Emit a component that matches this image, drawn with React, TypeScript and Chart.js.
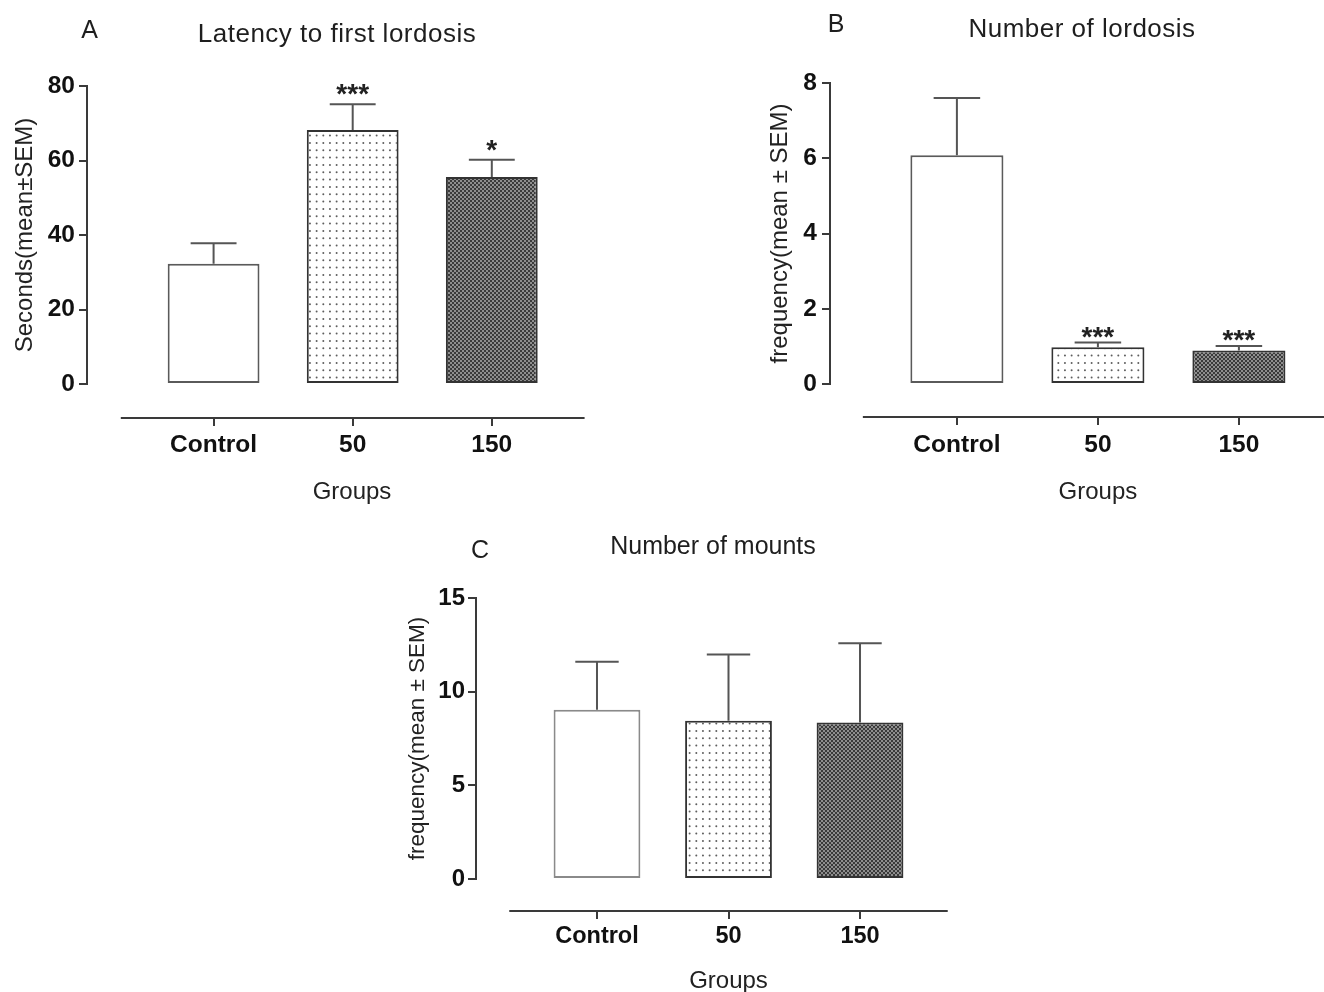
import React, { useEffect, useRef } from 'react';
import { Chart, registerables } from 'chart.js';

Chart.register(...registerables);

const FONT = '"Liberation Sans", Arial, Helvetica, sans-serif';

// ---------- data ----------
const GROUPS = ['Control', '50', '150'];
const GROUPS_TITLE = 'Groups';

const LATENCY_MEAN = [32.3, 68.2, 55.6];
const LATENCY_SEM = [5.5, 6.9, 4.6];
const LATENCY_STARS = ['', '***', '*'];
const LATENCY_TICKS = [0, 20, 40, 60, 80];

const LORDOSIS_MEAN = [6.08, 0.98, 0.89];
const LORDOSIS_SEM = [1.52, 0.12, 0.12];
const LORDOSIS_STARS = ['', '***', '***'];
const LORDOSIS_TICKS = [0, 2, 4, 6, 8];

const MOUNTS_MEAN = [9.04, 8.45, 8.36];
const MOUNTS_SEM = [2.56, 3.54, 4.22];
const MOUNTS_STARS = ['', '', ''];
const MOUNTS_TICKS = [0, 5, 10, 15];

type Panel = {
  id: string;
  letter: string;
  title: string;
  yTitle: string;
  means: number[];
  sems: number[];
  stars: string[];
  yTicks: number[];
  box: { left: number; top: number; width: number; height: number };
  pad: { top: number; right: number; bottom: number };
  yWidth: number;
  xHeight: number;
  xMin: number;
  xMax: number;
  axisGap: number;
  lineFrom: number;
  lineTo: number;
  titlePos: [number, number];
  letterPos: [number, number];
  titleSize: number;
  titleSpacing: number;
  yTitleFont: number;
  yTitlePad: number;
  xTickFont: number;
  xTickPad: number;
  groupsPad: number;
  yTickFont: number;
  yTickPad: number;
  starLift: number;
  edgeColors: string[];
};

const PANELS: Panel[] = [
  {
    id: 'A',
    letter: 'A',
    title: 'Latency to first lordosis',
    yTitle: 'Seconds(mean\u00B1SEM)',
    means: LATENCY_MEAN,
    sems: LATENCY_SEM,
    stars: LATENCY_STARS,
    yTicks: LATENCY_TICKS,
    box: { left: 0, top: 0, width: 660, height: 520 },
    pad: { top: 86, right: 43, bottom: 6 },
    yWidth: 87,
    xHeight: 130,
    xMin: -0.91,
    xMax: 2.9,
    axisGap: 34,
    lineFrom: -0.667,
    lineTo: 2.667,
    titlePos: [337, 35],
    letterPos: [89.5, 31],
    titleSize: 26,
    titleSpacing: 0.5,
    yTitleFont: 24,
    yTitlePad: 10.6,
    xTickFont: 24.5,
    xTickPad: 46.3,
    groupsPad: 6.9,
    yTickFont: 24.5,
    yTickPad: 4,
    starLift: 15,
    edgeColors: ['#5a5a5a', '#333333', '#333333'],
  },
  {
    id: 'B',
    letter: 'B',
    title: 'Number of lordosis',
    yTitle: 'frequency(mean \u00B1 SEM)',
    means: LORDOSIS_MEAN,
    sems: LORDOSIS_SEM,
    stars: LORDOSIS_STARS,
    yTicks: LORDOSIS_TICKS,
    box: { left: 755, top: 0, width: 650, height: 520 },
    pad: { top: 83, right: 39.2, bottom: 6 },
    yWidth: 75,
    xHeight: 130,
    xMin: -0.9,
    xMax: 2.9,
    axisGap: 33,
    lineFrom: -0.667,
    lineTo: 2.667,
    titlePos: [1082, 29.5],
    letterPos: [836, 25],
    titleSize: 26,
    titleSpacing: 0.5,
    yTitleFont: 24,
    yTitlePad: 10.6,
    xTickFont: 24.5,
    xTickPad: 46.3,
    groupsPad: 7.2,
    yTickFont: 24.5,
    yTickPad: 5,
    starLift: 10.7,
    edgeColors: ['#5a5a5a', '#333333', '#333333'],
  },
  {
    id: 'C',
    letter: 'C',
    title: 'Number of mounts',
    yTitle: 'frequency(mean \u00B1 SEM)',
    means: MOUNTS_MEAN,
    sems: MOUNTS_SEM,
    stars: MOUNTS_STARS,
    yTicks: MOUNTS_TICKS,
    box: { left: 393, top: 500, width: 620, height: 520 },
    pad: { top: 98, right: 32, bottom: 6 },
    yWidth: 83,
    xHeight: 135,
    xMin: -0.92,
    xMax: 2.92,
    axisGap: 32,
    lineFrom: -0.667,
    lineTo: 2.667,
    titlePos: [713, 547],
    letterPos: [480, 551],
    titleSize: 25,
    titleSpacing: 0,
    yTitleFont: 22.5,
    yTitlePad: 11.5,
    xTickFont: 23.5,
    xTickPad: 43.6,
    groupsPad: 17.9,
    yTickFont: 24,
    yTickPad: 3,
    starLift: 12,
    edgeColors: ['#8a8a8a', '#333333', '#333333'],
  },
];

function makeDots(): CanvasPattern | string {
  const c = document.createElement('canvas');
  c.width = 20;
  c.height = 22;
  const g = c.getContext('2d');
  if (!g) return '#f4f4f4';
  g.fillStyle = '#ffffff';
  g.fillRect(0, 0, 20, 22);
  g.fillStyle = '#5e5e5e';
  for (let i = 0; i < 3; i++) {
    for (let j = 0; j < 3; j++) {
      g.beginPath();
      g.arc(3.3 + i * 6.667, 3.6 + j * 7.333, 1.0, 0, Math.PI * 2);
      g.fill();
    }
  }
  return g.createPattern(c, 'repeat') || '#f4f4f4';
}

function makeChecker(): CanvasPattern | string {
  const c = document.createElement('canvas');
  c.width = 4;
  c.height = 4;
  const g = c.getContext('2d');
  if (!g) return '#666';
  g.fillStyle = '#3a3a3a';
  g.fillRect(0, 0, 4, 4);
  g.fillStyle = '#8e8e8e';
  g.fillRect(0, 0, 2, 2);
  g.fillRect(2, 2, 2, 2);
  return g.createPattern(c, 'repeat') || '#666';
}

function makeDecor(p: Panel) {
  return {
    id: 'decor' + p.id,
    afterDatasetsDraw(chart: any) {
      const ctx: CanvasRenderingContext2D = chart.ctx;
      const xs = chart.scales.x;
      const ys = chart.scales.y;
      const meta = chart.getDatasetMeta(0);
      ctx.save();
      // error bars and significance stars
      meta.data.forEach((el: any, i: number) => {
        const { x, y, width } = el.getProps(['x', 'y', 'width'], true);
        const top = ys.getPixelForValue(p.means[i] + p.sems[i]);
        ctx.strokeStyle = '#555555';
        ctx.lineWidth = 2;
        ctx.beginPath();
        ctx.moveTo(x, y);
        ctx.lineTo(x, top);
        ctx.moveTo(x - width / 4, top);
        ctx.lineTo(x + width / 4, top);
        ctx.stroke();
        if (p.stars[i]) {
          const fs = 28;
          ctx.fillStyle = '#222222';
          ctx.font = `bold ${fs}px ${FONT}`;
          ctx.textAlign = 'center';
          ctx.textBaseline = 'middle';
          ctx.fillText(p.stars[i], x, top - p.starLift + 0.23 * fs);
        }
      });
      // detached x axis line with ticks
      const base = Math.round(chart.chartArea.bottom + p.axisGap);
      ctx.strokeStyle = '#3a3a3a';
      ctx.lineWidth = 2;
      ctx.beginPath();
      ctx.moveTo(xs.getPixelForValue(p.lineFrom), base);
      ctx.lineTo(xs.getPixelForValue(p.lineTo), base);
      GROUPS.forEach((_g, i) => {
        const px = Math.round(xs.getPixelForValue(i));
        ctx.moveTo(px, base);
        ctx.lineTo(px, base + 8);
      });
      ctx.stroke();
      // title and panel letter
      ctx.fillStyle = '#1e1e1e';
      ctx.textAlign = 'center';
      ctx.textBaseline = 'middle';
      ctx.font = `${p.titleSize}px ${FONT}`;
      (ctx as any).letterSpacing = `${p.titleSpacing}px`;
      ctx.fillText(p.title, p.titlePos[0] - p.box.left, p.titlePos[1] - p.box.top);
      (ctx as any).letterSpacing = '0px';
      ctx.font = `25px ${FONT}`;
      ctx.fillText(p.letter, p.letterPos[0] - p.box.left, p.letterPos[1] - p.box.top);
      ctx.restore();
    },
  };
}

function PanelChart({ p }: { p: Panel }) {
  const ref = useRef<HTMLCanvasElement | null>(null);
  useEffect(() => {
    const canvas = ref.current;
    if (!canvas) return;
    const fills = ['#ffffff', makeDots(), makeChecker()];
    const chart = new Chart(canvas, {
      type: 'bar',
      data: {
        datasets: [
          {
            data: p.means.map((v, i) => ({ x: i, y: v })),
            backgroundColor: fills as any,
            borderColor: p.edgeColors,
            borderWidth: 2,
            borderSkipped: false,
            barPercentage: 1,
            categoryPercentage: 0.66,
          },
        ],
      },
      options: {
        animation: false,
        responsive: false,
        maintainAspectRatio: false,
        devicePixelRatio: 1,
        layout: { padding: { top: p.pad.top, right: p.pad.right, bottom: p.pad.bottom, left: 0 } },
        plugins: {
          legend: { display: false },
          tooltip: { enabled: false },
          title: { display: false },
        },
        scales: {
          x: {
            type: 'linear',
            min: p.xMin,
            max: p.xMax,
            bounds: 'data',
            offset: false,
            afterBuildTicks: (s: any) => {
              s.ticks = GROUPS.map((_g, i) => ({ value: i }));
            },
            afterFit: (s: any) => {
              s.height = p.xHeight;
            },
            grid: { display: false, drawTicks: false },
            border: { display: false },
            ticks: {
              callback: (_v: any, i: number) => GROUPS[i],
              font: { family: FONT, size: p.xTickFont, weight: 'bold' },
              color: '#111111',
              padding: p.xTickPad,
              maxRotation: 0,
              autoSkip: false,
            },
            title: {
              display: true,
              text: GROUPS_TITLE,
              font: { family: FONT, size: 24 },
              color: '#222222',
              padding: { top: 0, bottom: p.groupsPad },
            },
          } as any,
          y: {
            type: 'linear',
            min: 0,
            max: p.yTicks[p.yTicks.length - 1],
            afterBuildTicks: (s: any) => {
              s.ticks = p.yTicks.map((v) => ({ value: v }));
            },
            afterFit: (s: any) => {
              s.width = p.yWidth;
            },
            grid: { drawOnChartArea: false, drawTicks: true, tickLength: 8, color: '#3a3a3a', lineWidth: 2 },
            border: { display: true, color: '#3a3a3a', width: 2 },
            ticks: {
              font: { family: FONT, size: p.yTickFont, weight: 'bold' },
              color: '#111111',
              padding: p.yTickPad,
            },
            title: {
              display: true,
              text: p.yTitle,
              font: { family: FONT, size: p.yTitleFont },
              color: '#222222',
              padding: { top: p.yTitlePad, bottom: 0 },
            },
          } as any,
        },
      },
      plugins: [makeDecor(p)],
    });
    return () => chart.destroy();
  }, [p]);
  return (
    <canvas
      ref={ref}
      width={p.box.width}
      height={p.box.height}
      style={{
        position: 'absolute',
        left: p.box.left,
        top: p.box.top,
        width: p.box.width,
        height: p.box.height,
      }}
    />
  );
}

export default function App() {
  return (
    <div
      style={{
        position: 'absolute',
        left: 0,
        top: 0,
        width: 1324,
        height: 992,
        overflow: 'hidden',
        background: '#ffffff',
      }}
    >
      {PANELS.map((p) => (
        <PanelChart key={p.id} p={p} />
      ))}
    </div>
  );
}
